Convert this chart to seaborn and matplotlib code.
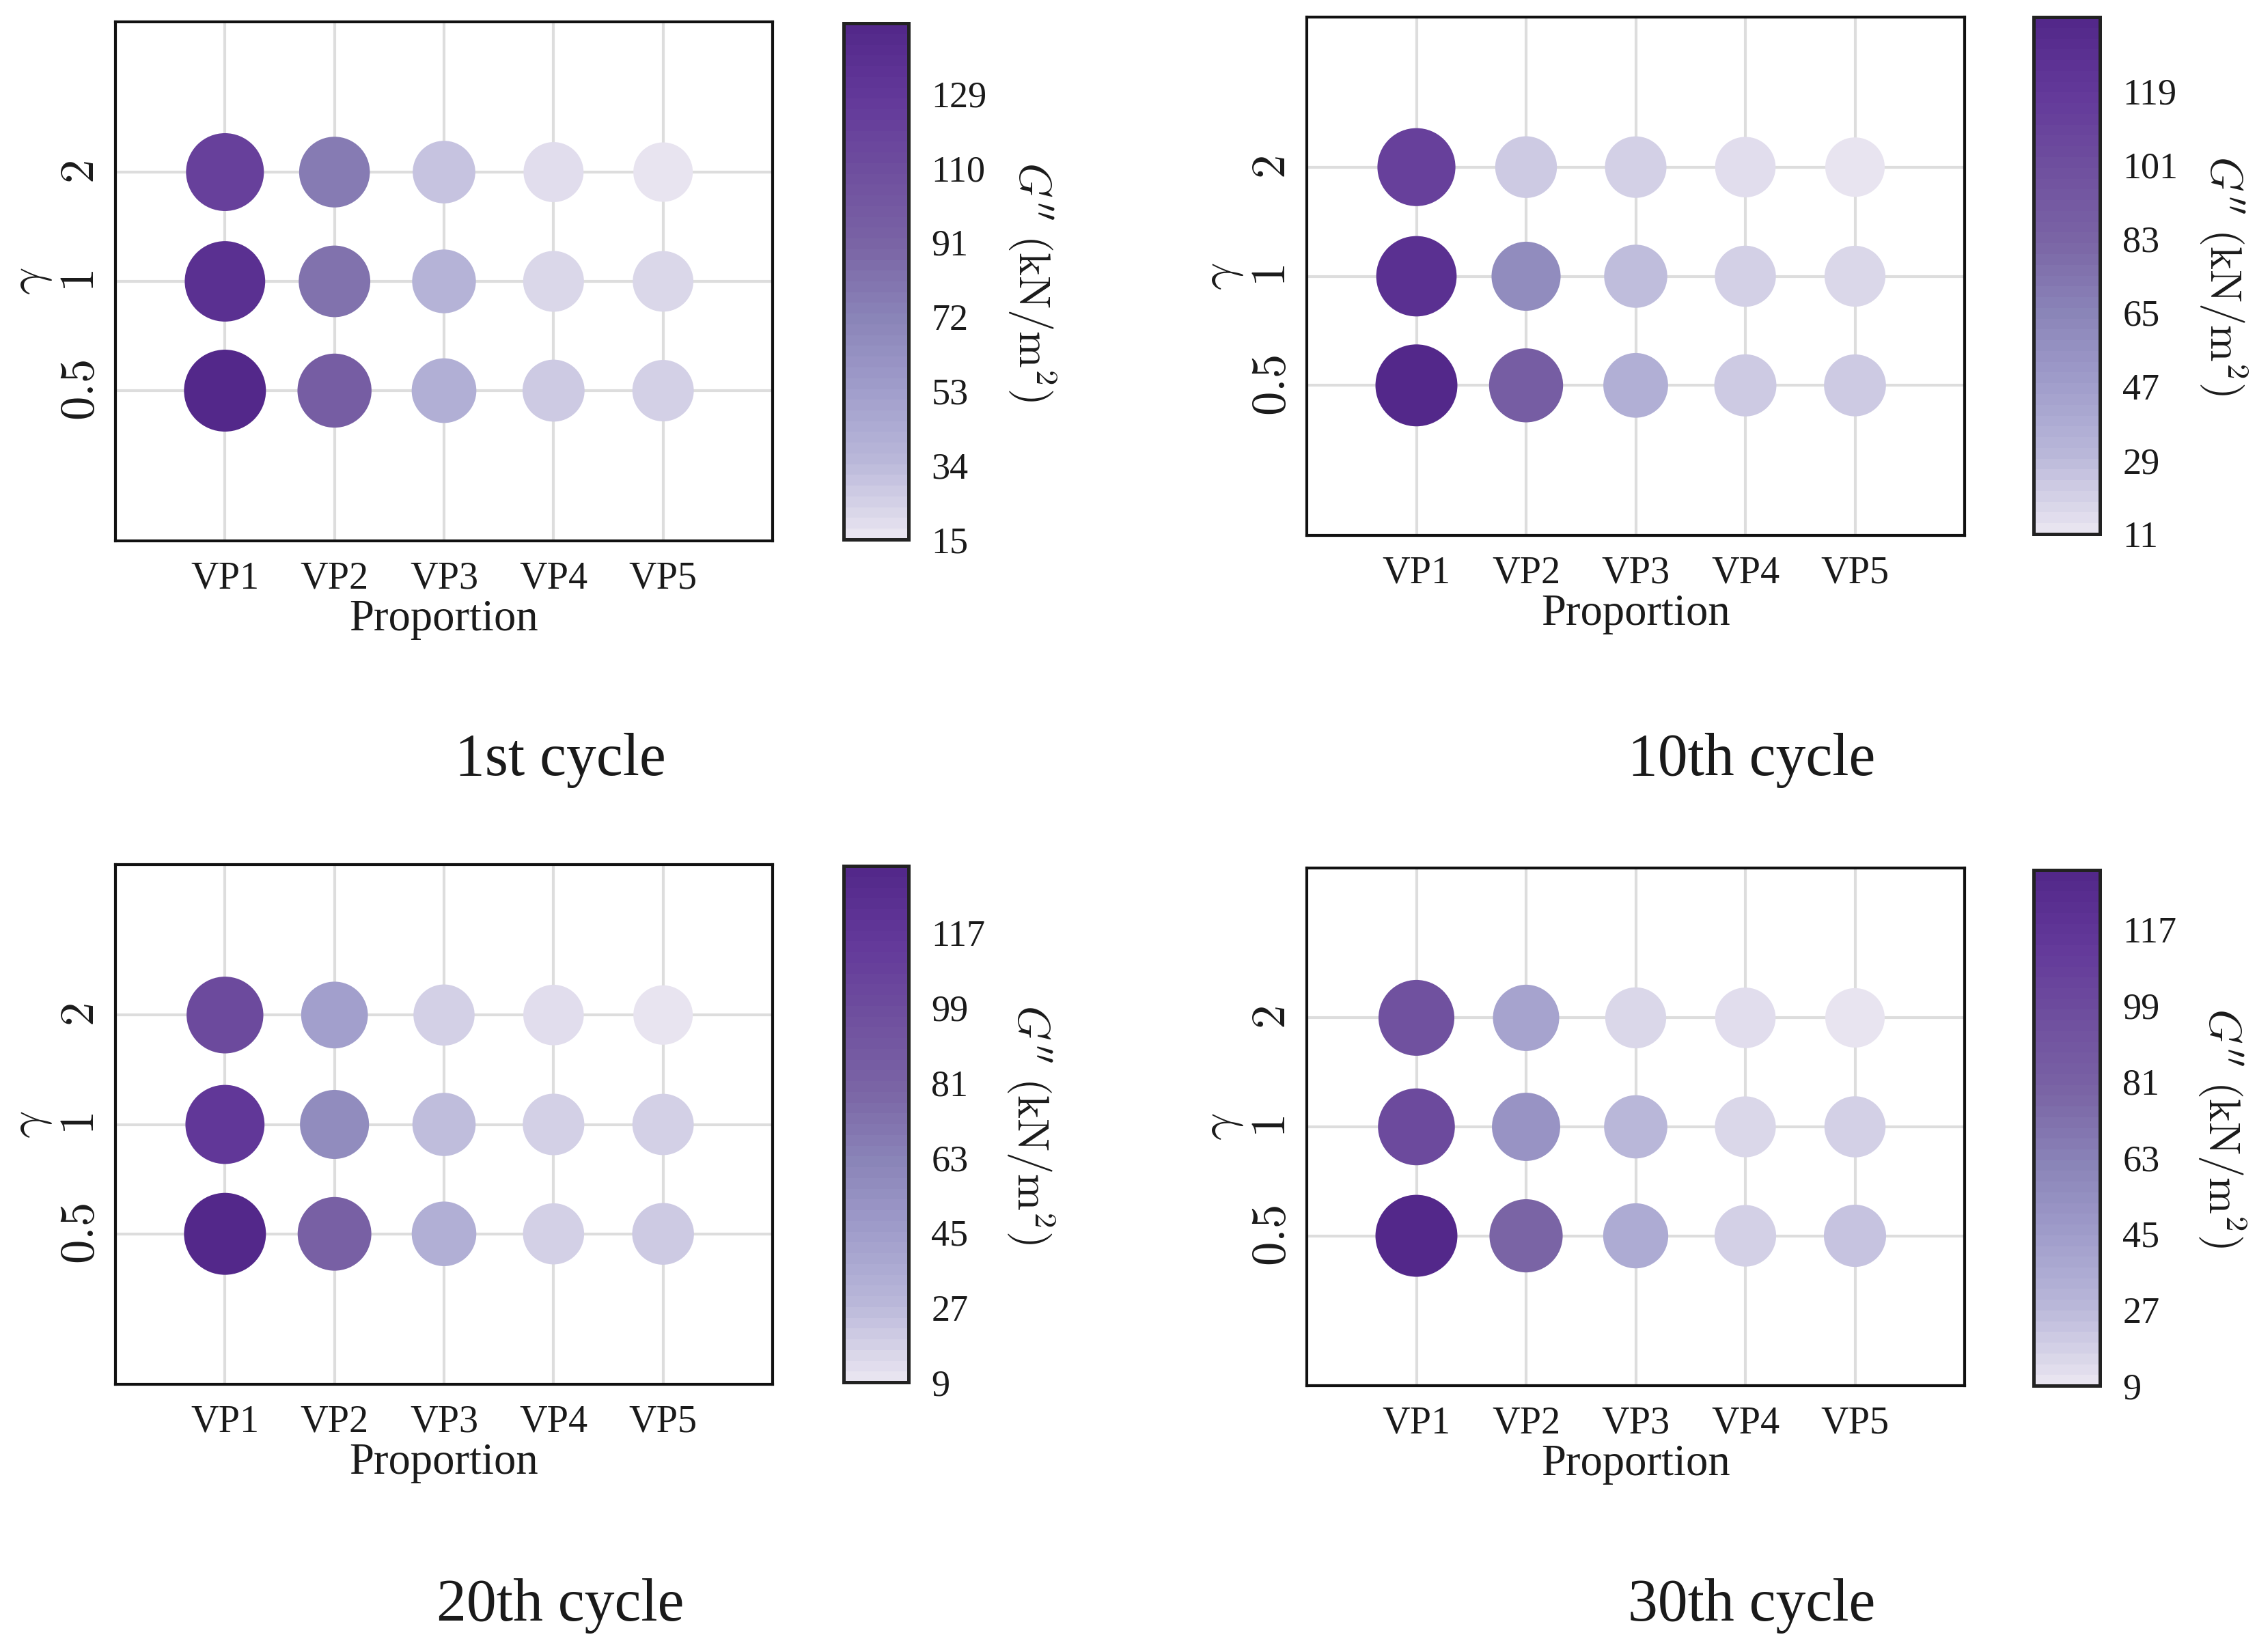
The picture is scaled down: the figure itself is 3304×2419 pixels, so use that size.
import numpy as np
import pandas as pd
import matplotlib
matplotlib.use("Agg")
import matplotlib.pyplot as plt
import seaborn as sns
from matplotlib.colors import LinearSegmentedColormap, Normalize
from matplotlib.cm import ScalarMappable

sns.set_theme(style="white")
plt.rcParams['font.family'] = ['Liberation Serif', 'DejaVu Serif']
plt.rcParams['mathtext.fontset'] = 'cm'
for key in ['text.color', 'axes.labelcolor', 'xtick.color', 'ytick.color']:
    plt.rcParams[key] = '#1a1a1a'

# ---------------- data ----------------
proportions = ["VP1", "VP2", "VP3", "VP4", "VP5"]
gammas = ["0.5", "1", "2"]
cycle_titles = ["1st cycle", "10th cycle", "20th cycle", "30th cycle"]

# G'' values (kN/m^2), rows = gamma (0.5, 1, 2), columns = VP1..VP5
g_cycle1 = [[147, 96, 42, 28, 25],
            [137, 81, 37, 22, 21],
            [120, 76, 31, 18, 15]]
g_cycle10 = [[137, 88, 37, 24, 23],
             [127, 60, 29, 19, 18],
             [112, 22, 21, 16, 11]]
g_cycle20 = [[133, 83, 34, 17, 20],
             [115, 57, 27, 19, 18],
             [101, 45, 17, 14, 9]]
g_cycle30 = [[131, 79, 36, 19, 22],
             [100, 52, 27, 16, 17],
             [94, 42, 16, 14, 9]]

cbar_ranges = [(15, 147), (11, 137), (9, 133), (9, 131)]
cbar_ticks = [[15, 34, 53, 72, 91, 110, 129],
              [11, 29, 47, 65, 83, 101, 119],
              [9, 27, 45, 63, 81, 99, 117],
              [9, 27, 45, 63, 81, 99, 117]]

all_values = [g_cycle1, g_cycle10, g_cycle20, g_cycle30]

# ---------------- style ----------------
anchor_colors = ["#e8e4f0", "#bab8da", "#a09dcb", "#8a84b8",
                 "#7a64a5", "#6f4f9e", "#63399a", "#53288a"]
cmap = LinearSegmentedColormap.from_list("lav", anchor_colors, N=48)

W, H = 3304, 2419
dpi = 300
fig = plt.figure(figsize=(W / dpi, H / dpi), dpi=dpi)

def fx(px):
    return px / W

def fy(py):
    return 1 - py / H

# axes boxes in pixel coords (left, top, right, bottom)
ax_boxes = [(169, 32, 1131, 792), (1913, 25, 2876, 784),
            (169, 1266, 1131, 2027), (1913, 1271, 2876, 2029)]
cb_boxes = [(1235, 34, 1330, 790), (2977, 25, 3074, 782),
            (1235, 1268, 1330, 2024), (2977, 1274, 3074, 2029)]
title_pos = [(820, 1114), (2564, 1114), (820, 2351), (2564, 2351)]

for i in range(4):
    l, t, r, b = ax_boxes[i]
    ax = fig.add_axes([fx(l), fy(b), fx(r) - fx(l), fy(t) - fy(b)])
    vals = all_values[i]
    rows = []
    for gi, g in enumerate(gammas):
        for pi, p in enumerate(proportions):
            rows.append({"Proportion": p, "gamma": g, "G": vals[gi][pi]})
    df = pd.DataFrame(rows)
    vmin, vmax = cbar_ranges[i]
    ax.set_axisbelow(True)
    ax.grid(True, color="#dddddd", linewidth=1.0)
    sns.scatterplot(data=df, x="Proportion", y="gamma", hue="G", size="G",
                    palette=cmap, hue_norm=(vmin, vmax), sizes=(436, 829),
                    linewidth=0, legend=False, ax=ax, zorder=3)
    ax.set_xlim(-1, len(proportions))
    ax.set_ylim(-1.375, len(gammas) + 0.375)
    ax.set_xticks(range(len(proportions)))
    ax.set_xticklabels(proportions, fontsize=13.5)
    ax.set_yticks(range(len(gammas)))
    ax.set_yticklabels([f"${g}$" for g in gammas], fontsize=17,
                       rotation=90, va="center")
    ax.tick_params(axis="both", length=0)
    ax.tick_params(axis="x", pad=7)
    ax.tick_params(axis="y", pad=4)
    ax.set_xlabel("Proportion", fontsize=15.5, labelpad=1)
    ax.set_ylabel(r"$\gamma$", fontsize=17, labelpad=2)
    for s in ax.spines.values():
        s.set_visible(True)
        s.set_color("#111111")
        s.set_linewidth(1.0)

    # colorbar
    cl, ct, cr, cb = cb_boxes[i]
    cax = fig.add_axes([fx(cl), fy(cb), fx(cr) - fx(cl), fy(ct) - fy(cb)])
    sm = ScalarMappable(norm=Normalize(vmin, vmax), cmap=cmap)
    cbar = fig.colorbar(sm, cax=cax)
    cbar.set_ticks(cbar_ticks[i])
    cbar.set_ticklabels([str(v) for v in cbar_ticks[i]])
    cax.tick_params(direction="in", length=4, width=1.0, color="#222222",
                    labelsize=13, pad=8)
    cbar.outline.set_edgecolor("#222222")
    cbar.outline.set_linewidth(1.2)
    cbar.set_label(r"$G''\ (\mathrm{kN/m^2})$", fontsize=15.5, rotation=270,
                   labelpad=25)

    tx, ty = title_pos[i]
    fig.text(fx(tx), fy(ty), cycle_titles[i], fontsize=21, ha="center",
             va="center")

fig.savefig("out.png", dpi=dpi)
